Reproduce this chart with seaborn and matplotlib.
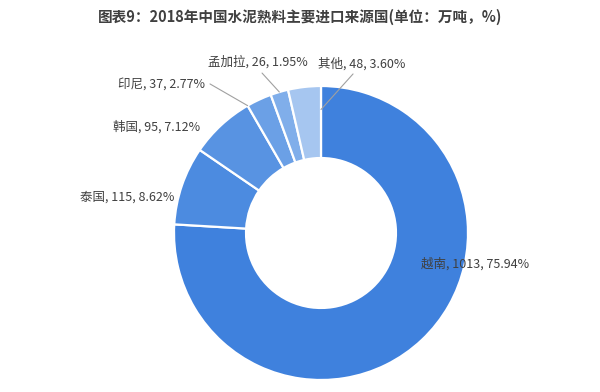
import numpy as np
import matplotlib
matplotlib.use("Agg")
import matplotlib.pyplot as plt
import seaborn as sns

# ---- data ----
countries = ["越南", "泰国", "韩国", "印尼", "孟加拉", "其他"]
volumes = [1013, 115, 95, 37, 26, 48]
shares = [75.94, 8.62, 7.12, 2.77, 1.95, 3.60]
title = "图表9：2018年中国水泥熟料主要进口来源国(单位：万吨，%)"

# ---- style ----
sns.set_theme(style="white")
plt.rcParams['font.family'] = ['Noto Sans CJK SC', 'DejaVu Sans']
colors = ["#3F81DD", "#4C8BE0", "#5893E2", "#6BA0E6", "#80AEEA", "#A6C6F0"]
text_color = "#404040"

# label layout (data coords of pie axes, radius 1): x, y, ha
label_pos = {
    "越南": (0.68, -0.211, "left"),
    "泰国": (-1.0, 0.245, "right"),
    "韩国": (-0.823, 0.721, "right"),
    "印尼": (-0.789, 1.014, "right"),
    "孟加拉": (-0.769, 1.163, "left"),
    "其他": (-0.02, 1.15, "left"),
}
# leader lines: start point, (fraction along wedge, radius) for the anchor
leaders = {
    "印尼": ((-0.755, 1.014), (0.0, 1.0)),
    "孟加拉": ((-0.401, 1.088), (0.5, 1.0)),
    "其他": ((0.218, 1.082), (1.0, 0.84)),
}

fig = plt.figure(figsize=(6, 3.92), dpi=100)
ax = fig.add_axes([(321 - 147) / 600, (392 - 233 - 147) / 392, 294 / 600, 294 / 392])

wedges, _ = ax.pie(volumes, colors=colors, startangle=90, counterclock=False,
                   radius=1.0,
                   wedgeprops=dict(width=0.49, edgecolor="white", linewidth=1.6))
ax.set_xlim(-1, 1)
ax.set_ylim(-1, 1)
ax.set_aspect("equal")
ax.axis("off")

total = float(sum(volumes))
cum = np.concatenate([[0], np.cumsum(volumes)]) / total

for i, name in enumerate(countries):
    x, y, ha = label_pos[name]
    ax.text(x, y, f"{name}, {volumes[i]}, {shares[i]:.2f}%", ha=ha, va="center",
            fontsize=9, color=text_color, clip_on=False)
    if name in leaders:
        (sx, sy), (frac, r) = leaders[name]
        f = cum[i] + frac * (cum[i + 1] - cum[i])
        ang = np.deg2rad(90 - 360 * f)
        ax.plot([sx, r * np.cos(ang)], [sy, r * np.sin(ang)], color="#A0A0A0",
                lw=0.8, clip_on=False, zorder=5)

fig.text(0.5, 1 - 17 / 392, title, ha="center", va="center", fontsize=10.5,
         color=text_color, fontweight="bold")

fig.savefig("out.png", dpi=100, facecolor="white")
